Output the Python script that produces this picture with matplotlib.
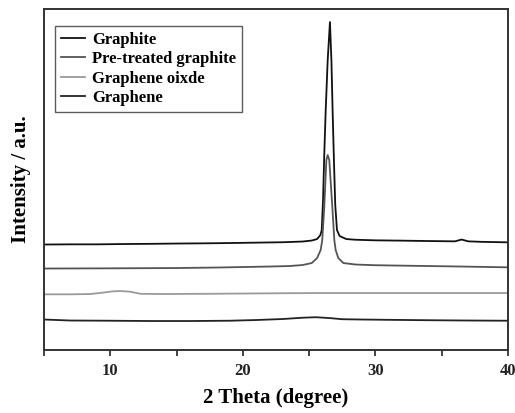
import numpy as np
import matplotlib
matplotlib.use('Agg')
import matplotlib.pyplot as plt

plt.rcParams['font.family'] = ['Liberation Serif', 'DejaVu Serif']
plt.rcParams['font.weight'] = 'bold'

# XRD patterns, values (intensity in arbitrary units)
graphite_x = [5.0, 7.0, 9.0, 11.0, 13.0, 15.0, 17.0, 19.0, 21.0, 23.0, 24.5, 25.2,
              25.6, 25.85, 25.95, 26.05, 26.14, 26.25, 26.4, 26.57, 26.68, 26.78,
              26.88, 26.97, 27.1, 27.3, 27.8, 28.5, 30.0, 32.0, 34.0, 36.0, 36.5,
              37.0, 38.0, 40.0]
graphite_y = [105.5, 105.7, 105.7, 106.0, 106.2, 106.5, 106.7, 107.0, 107.4, 107.8,
              108.5, 109.5, 111.0, 115.0, 120.0, 150.0, 195.0, 240.0, 290.0, 328.0,
              290.0, 235.0, 185.0, 145.0, 120.0, 114.0, 111.0, 110.3, 109.7,
              109.4, 109.0, 108.7, 110.5, 108.7, 108.2, 107.7]

pretreated_x = [5.0, 10.0, 15.0, 18.0, 20.0, 22.0, 23.5, 24.5, 25.2, 25.6, 25.87,
                25.99, 26.14, 26.3, 26.4, 26.52, 26.75, 26.9, 27.0, 27.2, 27.58,
                28.5, 30.0, 33.0, 36.0, 40.0]
pretreated_y = [81.5, 81.7, 82.0, 82.5, 83.0, 83.5, 84.0, 85.0, 87.0, 92.0, 100.0,
                110.0, 143.0, 190.0, 195.0, 190.0, 143.0, 110.0, 100.0, 92.0, 87.0,
                85.5, 84.8, 84.2, 83.6, 82.7]

go_x = [5.0, 7.0, 8.5, 9.5, 10.2, 10.8, 11.5, 12.3, 14.0, 17.0, 20.0, 23.0, 26.0,
        29.0, 32.0, 35.0, 38.0, 40.0]
go_y = [55.7, 55.7, 56.0, 57.5, 58.7, 59.0, 58.3, 56.2, 56.0, 56.2, 56.5, 56.8,
        57.0, 57.0, 57.0, 57.0, 57.0, 57.0]

graphene_x = [5.0, 7.0, 10.0, 13.0, 16.0, 19.0, 21.0, 23.0, 24.5, 25.5, 26.5,
              27.5, 29.0, 31.0, 34.0, 37.0, 40.0]
graphene_y = [30.5, 29.5, 29.3, 29.0, 29.0, 29.3, 30.0, 31.0, 32.3, 32.8, 32.0,
              30.8, 30.5, 30.2, 29.8, 29.5, 29.3]

series = [
    ('Graphite', graphite_x, graphite_y, '#111111'),
    ('Pre-treated graphite', pretreated_x, pretreated_y, '#555555'),
    ('Graphene oixde', go_x, go_y, '#9a9a9a'),
    ('Graphene', graphene_x, graphene_y, '#222222'),
]

fig = plt.figure(figsize=(5.15, 4.13), dpi=100)
ax = fig.add_axes([0.0854, 0.1525, 0.901, 0.8255])

for name, xs, ys, col in series:
    ax.plot(xs, ys, color=col, lw=1.3, label=name)

ax.set_xlim(5, 40)
ax.set_ylim(0, 341)
ax.set_xticks([10, 20, 30, 40])
ax.set_xticks([5, 15, 25, 35], minor=True)
ax.set_yticks([])
ax.tick_params(axis='x', which='both', direction='out', length=4.5, width=1.2,
               labelsize=12, pad=5, colors='#222222')
for lab in ax.get_xticklabels():
    lab.set_fontweight('bold')
for sp in ax.spines.values():
    sp.set_linewidth(1.4)
    sp.set_color('#333333')

ax.set_xlabel('2 Theta (degree)', fontsize=15, fontweight='bold', labelpad=6)
ax.set_ylabel('Intensity / a.u.', fontsize=15, fontweight='bold', labelpad=9)

leg = ax.legend(loc='upper left', bbox_to_anchor=(0.024, 0.95), fontsize=12,
                frameon=True, fancybox=False, handlelength=1.45, handletextpad=0.4,
                borderpad=0.35, labelspacing=0.2, borderaxespad=0.0)
leg.get_frame().set_edgecolor('#333333')
leg.get_frame().set_linewidth(1.0)
for t in leg.get_texts():
    t.set_fontweight('bold')

fig.savefig('out.png', dpi=100)
